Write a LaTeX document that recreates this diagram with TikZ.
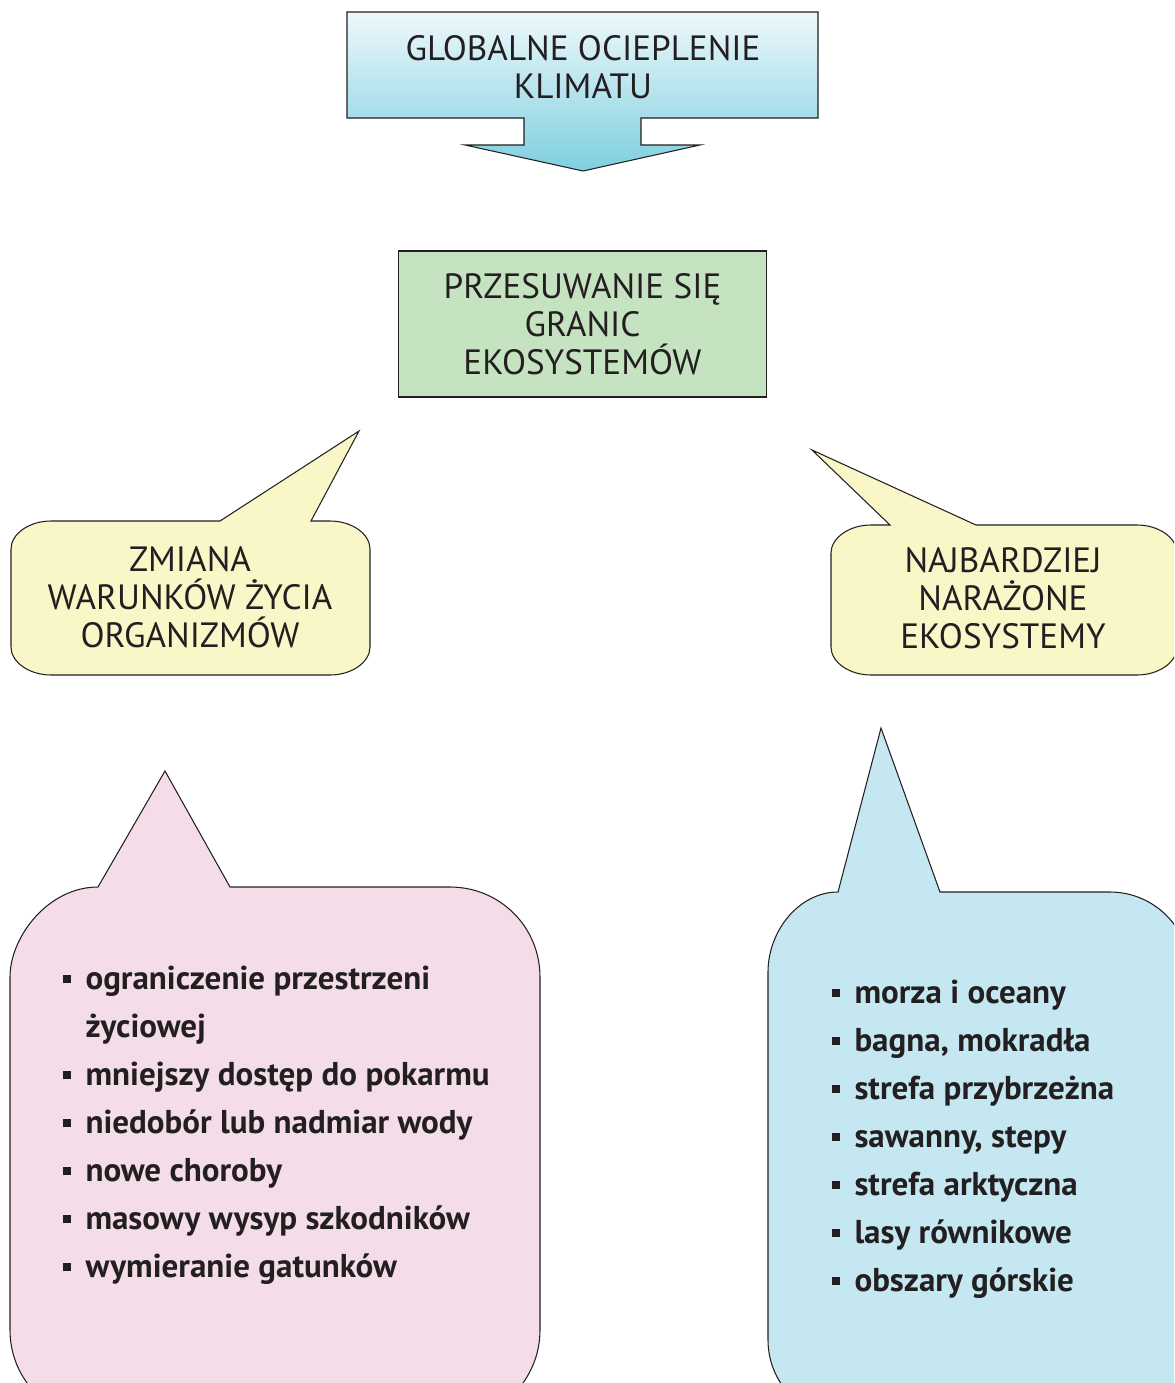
\documentclass[tikz,border=0pt]{standalone}
\usepackage{fontspec}
\setmainfont{PT Sans}
\usepackage{tikz}
\usetikzlibrary{positioning}

\definecolor{tekst}{HTML}{231F20}
\definecolor{niebieskij}{HTML}{EEF8FB}
\definecolor{niebieskic}{HTML}{7ECFE0}
\definecolor{zielony}{HTML}{C5E3C1}
\definecolor{zolty}{HTML}{F9F7C8}
\definecolor{rozowy}{HTML}{F4DDE8}
\definecolor{blekit}{HTML}{C4E7F1}

\newcommand{\pkt}{\makebox[0.46cm][l]{\rule[0.17em]{0.16cm}{0.16cm}}}

\begin{document}
\begin{tikzpicture}[x=0.02cm, y=-0.02cm, line width=0.6pt,
    kontur/.style={draw=tekst, line join=miter},
    haslo/.style={text=tekst, align=center, font=\fontsize{20}{21.6}\selectfont},
    punkt/.style={text=tekst, anchor=base west, inner sep=0pt, font=\bfseries\fontsize{18.8}{24}\selectfont}]

    \useasboundingbox (0,0) rectangle (1174,1383);
    \clip (0,0) rectangle (1174,1383);

    % strzalka u gory
    \draw[kontur, top color=niebieskij, bottom color=niebieskic]
        (347,12) -- (818,12) -- (818,118) -- (641,118) -- (641,145) -- (700,145)
        -- (583,171) -- (465,145) -- (524,145) -- (524,118) -- (347,118) -- cycle;
    \node[haslo] (ocieplenie) at (583,67) {GLOBALNE OCIEPLENIE\\KLIMATU};

    % prostokat
    \node[kontur, haslo, fill=zielony, minimum width=7.38cm, minimum height=2.92cm]
        (granice) at (582.5,324) {PRZESUWANIE SIĘ\\GRANIC\\EKOSYSTEMÓW};

    % dymki zolte
    \draw[kontur, fill=zolty] (220,521) -- (359,431) -- (311,521) -- (330,521)
        .. controls (352,521) and (370,534) .. (370,549) -- (370,647)
        .. controls (370,662) and (352,675) .. (330,675) -- (51,675)
        .. controls (29,675) and (11,662) .. (11,647) -- (11,549)
        .. controls (11,534) and (29,521) .. (51,521) -- cycle;
    \node[haslo] (warunki) at (190,597) {ZMIANA\\WARUNKÓW ŻYCIA\\ORGANIZMÓW};

    \draw[kontur, fill=zolty] (890,525) -- (812,450) -- (976,525) -- (1137,525)
        .. controls (1159,525) and (1177,538) .. (1177,553) -- (1177,647)
        .. controls (1177,662) and (1159,675) .. (1137,675) -- (871,675)
        .. controls (849,675) and (831,662) .. (831,647) -- (831,553)
        .. controls (831,538) and (849,525) .. (871,525) -- cycle;
    \node[haslo] (narazone) at (1003,598) {NAJBARDZIEJ\\NARAŻONE\\EKOSYSTEMY};

    % dymki z listami
    \draw[kontur, fill=rozowy] (98,887) -- (165,771) -- (230,887) -- (450,887)
        .. controls (500,887) and (540,927) .. (540,977) -- (540,1330)
        .. controls (540,1380) and (500,1420) .. (450,1420) -- (100,1420)
        .. controls (50,1420) and (10,1380) .. (10,1330) -- (10,977)
        .. controls (10,937) and (48,887) .. (98,887) -- cycle;

    \draw[kontur, fill=blekit] (838,892) -- (881,728) -- (940,892) -- (1110,892)
        .. controls (1154,892) and (1190,928) .. (1190,972) -- (1190,1340)
        .. controls (1190,1384) and (1154,1420) .. (1110,1420) -- (848,1420)
        .. controls (804,1420) and (768,1384) .. (768,1340) -- (768,972)
        .. controls (768,931) and (799,892) .. (838,892) -- cycle;

    \foreach \t [count=\i from 0] in {\pkt ograniczenie przestrzeni, \hspace{0.46cm}życiowej,
        \pkt mniejszy dostęp do pokarmu, \pkt niedobór lub nadmiar wody, \pkt nowe choroby,
        \pkt masowy wysyp szkodników, \pkt wymieranie gatunków}
        \node[punkt] (skutek\i) at (62,989+48*\i) {\t};

    \foreach \t [count=\i from 0] in {morza i oceany, {bagna, mokradła}, strefa przybrzeżna,
        {sawanny, stepy}, strefa arktyczna, lasy równikowe, obszary górskie}
        \node[punkt] (ekosystem\i) at (831,1003+48*\i) {\pkt \t};

\end{tikzpicture}
\end{document}
